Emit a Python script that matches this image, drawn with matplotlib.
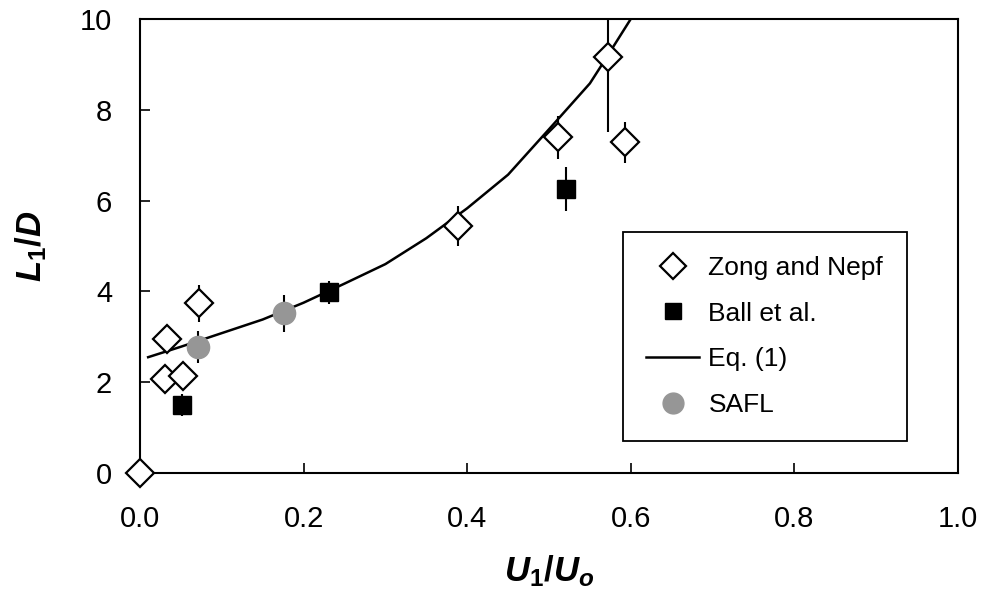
import matplotlib
matplotlib.use('Agg')
from matplotlib import pyplot as plt
from matplotlib.lines import Line2D

plt.rcParams['font.family'] = 'Liberation Sans'
plt.rcParams['mathtext.fontset'] = 'custom'
plt.rcParams['mathtext.it'] = 'Liberation Sans:bold:italic'
plt.rcParams['mathtext.rm'] = 'Liberation Sans:bold'
plt.rcParams['mathtext.bf'] = 'Liberation Sans:bold'

# Zong and Nepf
zn_u = [0.0, 0.031, 0.033, 0.052, 0.0725, 0.389, 0.511, 0.572, 0.593]
zn_l = [0.0, 2.07, 2.95, 2.14, 3.74, 5.44, 7.39, 9.17, 7.28]
zn_err = [0.0, 0.0, 0.0, 0.0, 0.41, 0.45, 0.47, 1.66, 0.45]

# Ball et al.
ball_u = [0.051, 0.231, 0.521]
ball_l = [1.50, 3.98, 6.25]
ball_err = [0.25, 0.25, 0.48]

# SAFL
safl_u = [0.071, 0.176]
safl_l = [2.78, 3.52]
safl_err = [0.35, 0.41]

# Eq. (1)
eq_u = [0.01, 0.05, 0.10, 0.15, 0.20, 0.25, 0.30, 0.35, 0.40, 0.45,
        0.50, 0.55, 0.565, 0.60, 0.62]
eq_l = [2.55, 2.78, 3.08, 3.38, 3.75, 4.17, 4.60, 5.17, 5.83, 6.57,
        7.57, 8.58, 9.0, 10.0, 10.6]

x_ticks = [0.0, 0.2, 0.4, 0.6, 0.8, 1.0]
y_ticks = [0, 2, 4, 6, 8, 10]

fig = plt.figure(figsize=(9.85, 5.99), dpi=100)
ax = fig.add_axes([0.1421, 0.2104, 0.8305, 0.758])

ax.plot(eq_u, eq_l, color='black', lw=1.8, zorder=2)

ax.errorbar(zn_u, zn_l, yerr=zn_err, fmt='none', ecolor='black',
            elinewidth=1.5, capsize=0, zorder=3)
ax.errorbar(ball_u, ball_l, yerr=ball_err, fmt='none', ecolor='black',
            elinewidth=1.5, capsize=0, zorder=3)
ax.errorbar(safl_u, safl_l, yerr=safl_err, fmt='none', ecolor='black',
            elinewidth=1.5, capsize=0, zorder=3)

ax.plot(zn_u, zn_l, ls='none', marker='D', ms=14, mfc='white',
        mec='black', mew=1.6, zorder=5, clip_on=False)
ax.plot(ball_u, ball_l, ls='none', marker='s', ms=12.5, mfc='black',
        mec='black', zorder=5)
ax.plot(safl_u, safl_l, ls='none', marker='o', ms=16, mfc='#969696',
        mec='#969696', zorder=5)

ax.set_xlim(0, 1.0)
ax.set_ylim(0, 10)
ax.set_xticks(x_ticks)
ax.set_yticks(y_ticks)
ax.set_xticklabels(['%.1f' % v for v in x_ticks])
ax.tick_params(direction='in', length=7, width=1.2, labelsize=21)
ax.tick_params(axis='x', pad=23)
ax.tick_params(axis='y', pad=20)
for s in ax.spines.values():
    s.set_linewidth(1.5)

ax.set_xlabel(r'$U_1/U_o$', fontsize=25, labelpad=15)
ax.set_ylabel(r'$L_1/D$', fontsize=25, labelpad=22)

handles = [
    Line2D([], [], ls='none', marker='D', ms=13, mfc='white', mec='black', mew=1.6),
    Line2D([], [], ls='none', marker='s', ms=12, mfc='black', mec='black'),
    Line2D([], [], color='black', lw=1.8),
    Line2D([], [], ls='none', marker='o', ms=15, mfc='#969696', mec='#969696'),
]
labels = ['Zong and Nepf', 'Ball et al.', 'Eq. (1)', 'SAFL']
leg = ax.legend(handles, labels, loc='upper left', bbox_to_anchor=(0.590, 0.530),
                borderaxespad=0, fontsize=19, frameon=True, fancybox=False,
                edgecolor='black', framealpha=1, labelspacing=0.82,
                handlelength=2.0, handletextpad=0.35, borderpad=0.9)
leg.get_frame().set_linewidth(1.3)

fig.savefig('out.png', dpi=100)
